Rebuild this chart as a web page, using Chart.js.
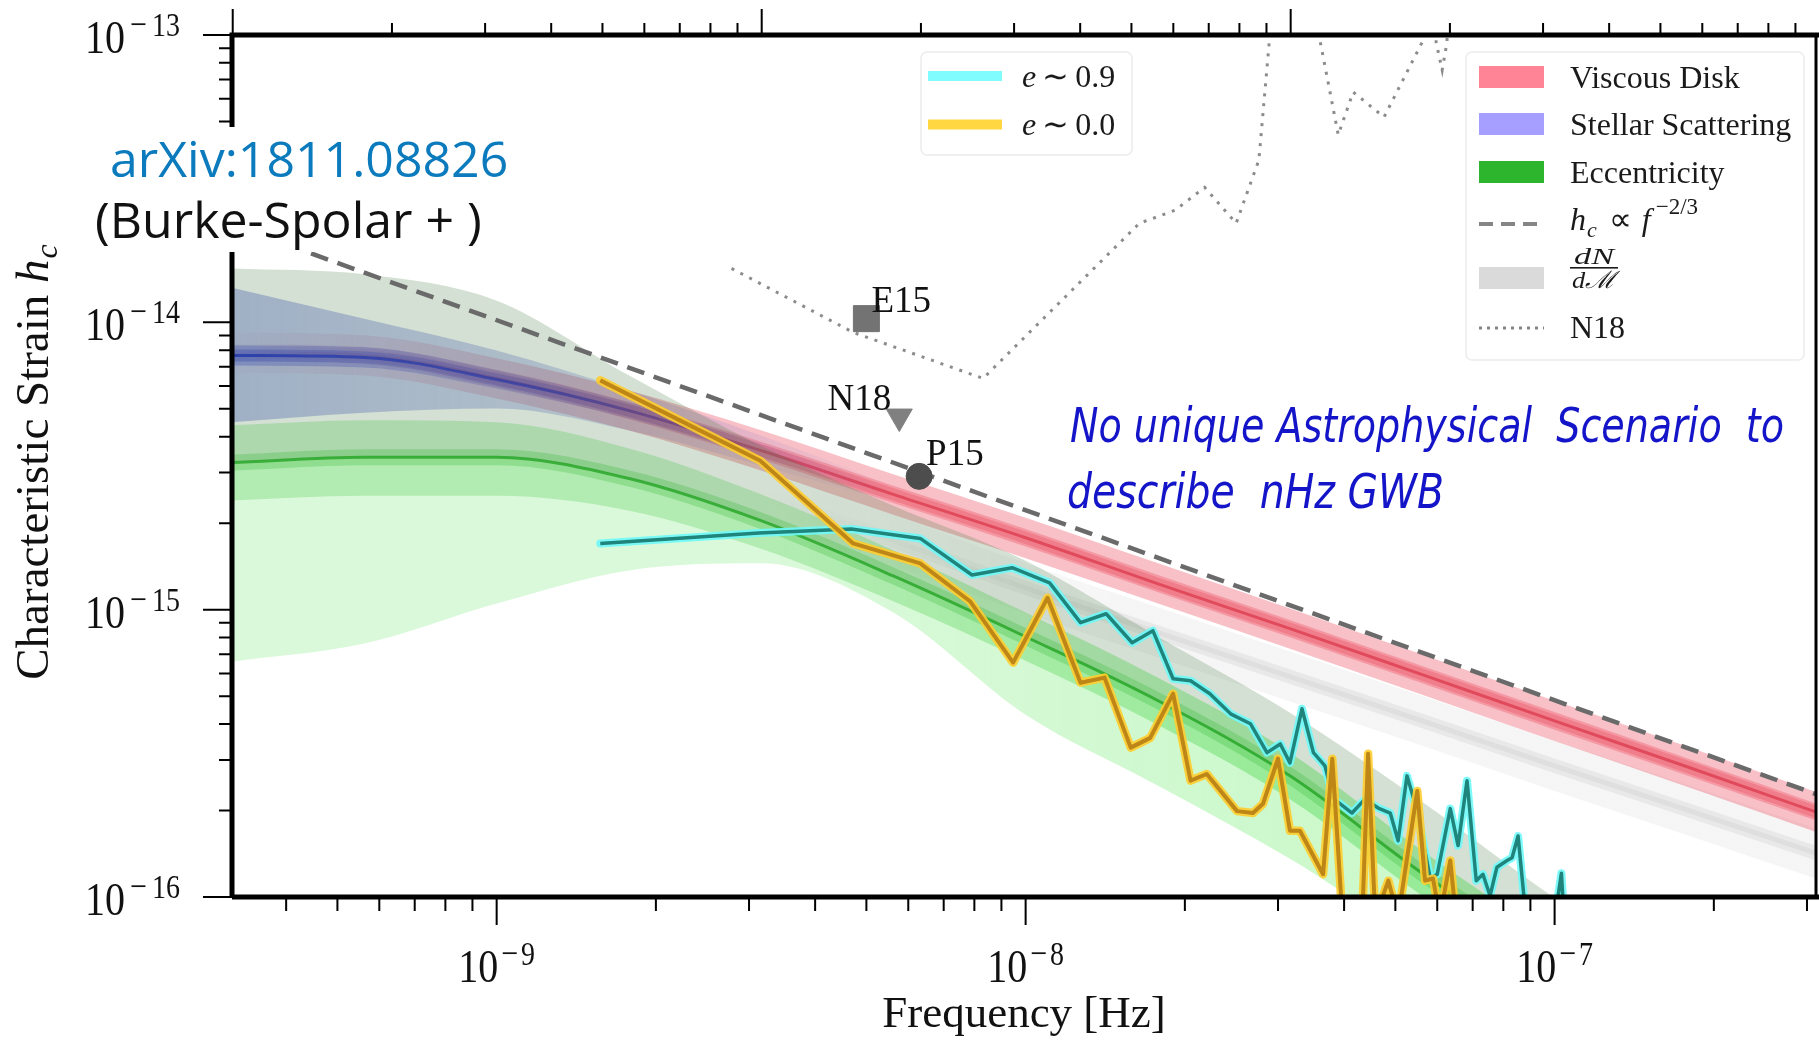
<!DOCTYPE html>
<html lang="en">
<head>
<meta charset="utf-8">
<title>GWB characteristic strain models</title>
<script src="https://cdn.jsdelivr.net/npm/chart.js@4.4.1/dist/chart.umd.min.js"></script>
<style>
  html, body { margin: 0; padding: 0; background: #ffffff; }
  #plot-wrap { position: relative; width: 1819px; height: 1042px; }
</style>
</head>
<body>
<div id="plot-wrap"><canvas id="strain-chart"></canvas></div>
<script>
const SERIF = '"Liberation Serif", "Times New Roman", serif';
const SANS = '"Open Sans", "Noto Sans", sans-serif';
const HAND = '"Liberation Sans Narrow", "DejaVu Sans Condensed", sans-serif';

// one inverse year in Hz (top axis ticks)
const YR = 3.17e-8;

// axis ranges
const freqRange = [3.16e-10, 3.12e-7];
const strainRange = [1e-16, 1e-13];

// labelled decades and their exponents
const xMajor = [1e-9, 1e-8, 1e-7];
const xMajorExp = [-9, -8, -7];
const yMajor = [1e-13, 1e-14, 1e-15, 1e-16];
const yMajorExp = [-13, -14, -15, -16];

// model bands, common frequency grid [Hz]
const bandFreq = [3.16e-10, 5.62e-10, 1.0e-9, 1.78e-9, 3.16e-9, 5.62e-9, 1.0e-8, 1.78e-8, 3.16e-8, 5.62e-8, 1.0e-7, 1.78e-7, 3.16e-7];

// viscous disk
const diskMid  = [7.85e-15, 7.67e-15, 6.38e-15, 4.93e-15, 3.58e-15, 2.52e-15, 1.78e-15, 1.23e-15, 8.59e-16, 5.94e-16, 4.10e-16, 2.84e-16, 1.96e-16];
const diskHi   = [9.22e-15, 9.01e-15, 7.50e-15, 5.79e-15, 4.21e-15, 2.96e-15, 2.09e-15, 1.45e-15, 1.01e-15, 6.98e-16, 4.82e-16, 3.34e-16, 2.30e-16];
const diskLo   = [6.68e-15, 6.53e-15, 5.43e-15, 4.20e-15, 3.05e-15, 2.14e-15, 1.51e-15, 1.05e-15, 7.31e-16, 5.06e-16, 3.49e-16, 2.42e-16, 1.67e-16];
const diskInHi = [8.42e-15, 8.22e-15, 6.84e-15, 5.28e-15, 3.84e-15, 2.70e-15, 1.91e-15, 1.32e-15, 9.21e-16, 6.37e-16, 4.40e-16, 3.04e-16, 2.10e-16];
const diskInLo = [7.32e-15, 7.15e-15, 5.95e-15, 4.60e-15, 3.34e-15, 2.35e-15, 1.66e-15, 1.15e-15, 8.01e-16, 5.54e-16, 3.82e-16, 2.65e-16, 1.83e-16];

// stellar scattering (merges into the disk curve above a few nHz)
const stellarFreq = [3.16e-10, 5.62e-10, 1.0e-9, 1.78e-9, 3.16e-9, 5.62e-9];
const stellarMid  = [7.67e-15, 7.55e-15, 6.32e-15, 4.93e-15, 3.58e-15, 2.52e-15];
const stellarHi   = [1.32e-14, 1.03e-14, 7.98e-15, 5.79e-15, 4.04e-15, 2.70e-15];
const stellarLo   = [4.49e-15, 4.85e-15, 5.01e-15, 4.20e-15, 3.17e-15, 2.35e-15];
const stellarInHi = [8.32e-15, 8.19e-15, 6.81e-15, 5.26e-15, 3.78e-15, 2.60e-15];
const stellarInLo = [7.08e-15, 6.97e-15, 5.89e-15, 4.63e-15, 3.39e-15, 2.45e-15];

// eccentricity
const eccMid  = [3.25e-15, 3.39e-15, 3.39e-15, 2.86e-15, 2.04e-15, 1.31e-15, 8.05e-16, 4.82e-16, 2.64e-16, 1.21e-16, 5.98e-17, 3.0e-17, 1.5e-17];
const eccHi   = [1.54e-14, 1.47e-14, 1.19e-14, 6.53e-15, 3.72e-15, 2.30e-15, 1.48e-15, 8.05e-16, 4.38e-16, 2.14e-16, 9.92e-17, 5.0e-17, 2.5e-17];
const eccLo   = [6.59e-16, 7.62e-16, 1.05e-15, 1.37e-15, 1.45e-15, 9.77e-16, 4.31e-16, 2.44e-16, 1.36e-16, 7.03e-17, 4.5e-17, 2.0e-17, 1.0e-17];
const eccInHi = [4.38e-15, 4.56e-15, 4.49e-15, 3.64e-15, 2.52e-15, 1.61e-15, 9.77e-16, 5.79e-16, 3.18e-16, 1.45e-16, 7.03e-17, 3.5e-17, 1.8e-17];
const eccInLo = [2.40e-15, 2.49e-15, 2.49e-15, 2.21e-15, 1.63e-15, 1.07e-15, 6.64e-16, 3.97e-16, 2.19e-16, 1.01e-16, 5.0e-17, 2.5e-17, 1.2e-17];

// dN/dM (mass function) band
const massFreq = [3.16e-9, 5.62e-9, 1.0e-8, 1.78e-8, 3.16e-8, 5.62e-8, 1.0e-7, 1.78e-7, 3.16e-7];
const massMid  = [2.54e-15, 1.74e-15, 1.19e-15, 8.32e-16, 5.85e-16, 4.10e-16, 2.86e-16, 2.01e-16, 1.41e-16];
const massHi   = [3.10e-15, 2.13e-15, 1.45e-15, 1.02e-15, 7.15e-16, 5.01e-16, 3.50e-16, 2.46e-16, 1.72e-16];
const massLo   = [2.08e-15, 1.42e-15, 9.74e-16, 6.81e-16, 4.79e-16, 3.36e-16, 2.34e-16, 1.64e-16, 1.15e-16];

// h_c ~ f^(-2/3) reference line
const powerFreq = [3.16e-10, 3.12e-7];
const powerStrain = [2.18e-14, 2.28e-16];

// simulated spectrum, e ~ 0.9
const highEccFreq = [1.57e-9, 3.13e-9, 4.68e-9, 6.32e-9, 7.92e-9, 9.43e-9, 1.11e-8, 1.27e-8, 1.42e-8, 1.59e-8, 1.74e-8, 1.90e-8, 2.05e-8, 2.23e-8, 2.44e-8, 2.66e-8, 2.86e-8, 3.03e-8, 3.16e-8, 3.33e-8, 3.50e-8, 3.68e-8, 3.81e-8, 4.14e-8, 4.38e-8, 4.64e-8, 4.89e-8, 5.06e-8, 5.26e-8, 5.50e-8, 5.82e-8, 6.00e-8, 6.35e-8, 6.57e-8, 6.83e-8, 7.11e-8, 7.32e-8, 7.55e-8, 7.78e-8, 8.13e-8, 8.31e-8, 8.53e-8, 8.80e-8, 9.39e-8, 1.006e-7, 1.03e-7, 1.04e-7];
const highEccStrain = [1.70e-15, 1.85e-15, 1.91e-15, 1.77e-15, 1.32e-15, 1.40e-15, 1.24e-15, 9.01e-16, 9.68e-16, 7.67e-16, 8.45e-16, 5.75e-16, 5.66e-16, 5.10e-16, 4.34e-16, 4.01e-16, 3.18e-16, 3.41e-16, 2.93e-16, 4.52e-16, 3.18e-16, 2.86e-16, 2.21e-16, 1.96e-16, 2.19e-16, 2.04e-16, 1.96e-16, 1.57e-16, 2.64e-16, 1.99e-16, 1.16e-16, 1.20e-16, 2.03e-16, 1.51e-16, 2.54e-16, 1.14e-16, 1.20e-16, 1.01e-16, 1.27e-16, 1.34e-16, 1.37e-16, 1.63e-16, 9e-17, 9e-17, 9e-17, 1.21e-16, 9e-17];

// simulated spectrum, e ~ 0.0
const circFreq = [1.57e-9, 3.15e-9, 4.72e-9, 6.32e-9, 7.85e-9, 9.47e-9, 1.10e-8, 1.27e-8, 1.41e-8, 1.58e-8, 1.72e-8, 1.90e-8, 2.05e-8, 2.20e-8, 2.51e-8, 2.69e-8, 2.81e-8, 3.00e-8, 3.16e-8, 3.30e-8, 3.65e-8, 3.80e-8, 3.97e-8, 4.33e-8, 4.44e-8, 4.58e-8, 4.85e-8, 5.06e-8, 5.50e-8, 5.69e-8, 5.89e-8, 6.07e-8, 6.35e-8, 6.51e-8];
const circStrain = [6.28e-15, 3.30e-15, 1.70e-15, 1.45e-15, 1.07e-15, 6.54e-16, 1.10e-15, 5.57e-16, 5.80e-16, 3.31e-16, 3.58e-16, 5.10e-16, 2.54e-16, 2.68e-16, 1.99e-16, 1.96e-16, 2.11e-16, 3.03e-16, 1.70e-16, 1.70e-16, 1.20e-16, 3.03e-16, 8.5e-17, 8.5e-17, 3.15e-16, 8.5e-17, 1.14e-16, 8.5e-17, 2.34e-16, 1.14e-16, 1.16e-16, 8.5e-17, 1.34e-16, 8.5e-17];

// NANOGrav 11yr sensitivity curve
const n18Freq = [2.78e-9, 4.72e-9, 8.31e-9, 1.64e-8, 1.92e-8, 2.18e-8, 2.50e-8, 2.76e-8, 2.89e-8, 2.91e-8, 3.57e-8, 3.60e-8, 3.90e-8, 4.16e-8, 4.76e-8, 5.62e-8, 5.67e-8, 5.92e-8, 5.97e-8, 6.13e-8, 6.26e-8, 6.32e-8];
const n18Strain = [1.54e-14, 9.23e-15, 6.38e-15, 2.21e-14, 2.46e-14, 2.95e-14, 2.21e-14, 3.67e-14, 9.61e-14, 3e-13, 3e-13, 9.61e-14, 4.49e-14, 6.33e-14, 5.18e-14, 9.45e-14, 3e-13, 3e-13, 9.45e-14, 7.55e-14, 9.45e-14, 3e-13];

// PTA upper limits
const limitNames = ['E15', 'N18', 'P15'];
const limitFreq = [5.00e-9, 5.77e-9, 6.29e-9];
const limitStrain = [1.03e-14, 4.70e-15, 2.91e-15];

const pts = (fs, hs) => fs.map((f, i) => ({ x: f, y: hs[i] }));

// datasets are painted in the order they are added
const datasets = [];
function add(ds) {
  datasets.push(Object.assign({
    pointRadius: 0, borderWidth: 0, borderColor: 'rgba(0,0,0,0)',
    fill: false, clip: 0, tension: 0, order: 1000 - datasets.length
  }, ds));
  return datasets.length - 1;
}
function band(freq, hi, lo, color) {
  const base = add({ data: pts(freq, lo), cubicInterpolationMode: 'monotone' });
  add({ data: pts(freq, hi), cubicInterpolationMode: 'monotone', fill: base, backgroundColor: color });
}
function curve(freq, vals, color, width) {
  return add({ data: pts(freq, vals), cubicInterpolationMode: 'monotone', borderColor: color, borderWidth: width, borderCapStyle: 'butt' });
}

// horizontal colour ramp along the frequency axis
function fadeX(stops) {
  return (c) => {
    const chart = c.chart;
    const sx = chart.scales && chart.scales.x;
    if (!chart.chartArea || !sx) return stops[stops.length - 1][1];
    const x0 = sx.getPixelForValue(stops[0][0]);
    const x1 = sx.getPixelForValue(stops[stops.length - 1][0]);
    const g = chart.ctx.createLinearGradient(x0, 0, x1, 0);
    stops.forEach(([f, col]) => g.addColorStop((sx.getPixelForValue(f) - x0) / (x1 - x0), col));
    return g;
  };
}

// dN/dM: soft grey stripe, fading in from under the disk band
band(massFreq, massHi, massLo, fadeX([[3.16e-9, 'rgba(120,120,120,0)'], [1.5e-8, 'rgba(120,120,120,0.07)']]));
curve(massFreq, massMid, fadeX([[3.16e-9, 'rgba(140,140,140,0)'], [1.5e-8, 'rgba(140,140,140,0.12)']]), 14);
curve(massFreq, massMid, fadeX([[3.16e-9, 'rgba(150,150,150,0)'], [1.5e-8, 'rgba(150,150,150,0.12)']]), 5);

// viscous disk
band(bandFreq, diskHi, diskLo, fadeX([[3.16e-10, 'rgba(235,70,90,0.03)'], [1.8e-9, 'rgba(235,70,90,0.34)']]));
band(bandFreq, diskInHi, diskInLo, fadeX([[3.16e-10, 'rgba(235,60,80,0.03)'], [1.8e-9, 'rgba(235,60,80,0.3)']]));
curve(bandFreq, diskMid, fadeX([[3.16e-10, 'rgba(225,45,65,0.02)'], [1.8e-9, 'rgba(225,45,65,0.25)']]), 12);
curve(bandFreq, diskMid, fadeX([[3.16e-10, 'rgba(215,40,60,0.05)'], [1.8e-9, 'rgba(215,40,60,0.6)']]), 3);

// stellar scattering
band(stellarFreq, stellarHi, stellarLo, fadeX([[3.16e-10, 'rgba(70,80,205,0.36)'], [1.2e-9, 'rgba(70,80,205,0.26)'], [5.62e-9, 'rgba(70,80,205,0)']]));
band(stellarFreq, stellarInHi, stellarInLo, fadeX([[3.16e-10, 'rgba(40,50,205,0.3)'], [1.2e-9, 'rgba(40,50,205,0.22)'], [5.62e-9, 'rgba(40,50,205,0)']]));
curve(stellarFreq, stellarMid, fadeX([[3.16e-10, 'rgba(30,40,200,0.3)'], [1.2e-9, 'rgba(30,40,200,0.2)'], [3.16e-9, 'rgba(30,40,200,0)']]), 12);
curve(stellarFreq, stellarMid, fadeX([[3.16e-10, 'rgba(25,35,200,0.85)'], [1.2e-9, 'rgba(25,35,200,0.6)'], [3.16e-9, 'rgba(25,35,200,0)']]), 3);

// eccentricity: grey-green above the median, pale green below
const eccBase = add({ data: pts(bandFreq, eccMid), cubicInterpolationMode: 'monotone' });
add({ data: pts(bandFreq, eccHi), cubicInterpolationMode: 'monotone', fill: eccBase, backgroundColor: 'rgba(70,125,70,0.24)' });
add({ data: pts(bandFreq, eccLo), cubicInterpolationMode: 'monotone', fill: eccBase,
  backgroundColor: fadeX([[3.16e-10, 'rgba(70,225,70,0.2)'], [3.16e-9, 'rgba(70,225,70,0.2)'], [3.16e-8, 'rgba(60,230,60,0.26)']]) });
band(bandFreq, eccInHi, eccInLo, fadeX([[3.16e-10, 'rgba(40,190,40,0.22)'], [3.16e-9, 'rgba(40,190,40,0.22)'], [3.16e-8, 'rgba(40,205,40,0.32)']]));
curve(bandFreq, eccMid, 'rgba(40,180,40,0.25)', 16);
curve(bandFreq, eccMid, 'rgba(30,160,30,0.75)', 3);

// reference power law and sensitivity curve
add({ data: pts(powerFreq, powerStrain), borderColor: '#6a6a6a', borderWidth: 4.5, borderDash: [18, 10] });
add({ data: pts(n18Freq, n18Strain), borderColor: '#8c8c8c', borderWidth: 3, borderDash: [3, 7] });

// simulated spectra, glow underneath the core line
add({ data: pts(highEccFreq, highEccStrain), borderColor: 'rgba(110,250,250,0.9)', borderWidth: 8, borderJoinStyle: 'round', borderCapStyle: 'round' });
add({ data: pts(highEccFreq, highEccStrain), borderColor: '#1f847b', borderWidth: 3.5, borderJoinStyle: 'round' });
add({ data: pts(circFreq, circStrain), borderColor: 'rgba(255,205,45,0.9)', borderWidth: 8.5, borderJoinStyle: 'round', borderCapStyle: 'round' });
add({ data: pts(circFreq, circStrain), borderColor: '#bd8616', borderWidth: 4, borderJoinStyle: 'round' });

// upper limits
const limitStyle = [
  { pointStyle: 'rect', pointRadius: 18.4, pointRotation: 0, color: '#737373' },
  { pointStyle: 'triangle', pointRadius: 15, pointRotation: 180, color: '#808080' },
  { pointStyle: 'circle', pointRadius: 13, pointRotation: 0, color: '#4d4d4d' }
];
limitNames.forEach((name, i) => {
  const s = limitStyle[i];
  add({
    label: name, data: [{ x: limitFreq[i], y: limitStrain[i] }], showLine: false, clip: false,
    pointStyle: s.pointStyle, pointRadius: s.pointRadius, pointRotation: s.pointRotation,
    pointBackgroundColor: s.color, pointBorderColor: s.color, pointBorderWidth: 1
  });
});

function logTicks(min, max, unit) {
  const out = [];
  for (let n = -18; n <= 2; n++) {
    for (let k = 1; k <= 9; k++) {
      const v = k * Math.pow(10, n) * unit;
      if (v >= min * 0.999 && v <= max * 1.001) out.push({ v, major: k === 1 });
    }
  }
  return out;
}

// draws a run of text pieces, each with its own font and vertical offset
function rich(ctx, x, y, parts, measureOnly) {
  let cx = x;
  parts.forEach(p => {
    ctx.font = p.font;
    if (!measureOnly) ctx.fillText(p.t, cx, y + (p.dy || 0));
    cx += ctx.measureText(p.t).width + (p.gap || 0);
  });
  return cx - x;
}

// "10^n" tick label; the mathtext glyphs are taller than plain Times
function powLabel(ctx, x, y, exp, align, gap) {
  const parts = [
    { t: '10', font: `40px ${SERIF}`, gap: gap },
    { t: '\u2212', font: `30px ${SERIF}`, dy: -14.4, gap: gap },
    { t: String(Math.abs(exp)), font: `28px ${SERIF}`, dy: -14.4 }
  ];
  const w = rich(ctx, 0, 0, parts, true);
  ctx.save();
  ctx.translate(align === 'center' ? x - w / 2 : x - w, y);
  ctx.scale(1, 1.18);
  rich(ctx, 0, 0, parts);
  ctx.restore();
}

// squeeze or stretch a line of text to a given width
function fitText(ctx, text, x, y, width) {
  const w = ctx.measureText(text).width;
  ctx.save();
  ctx.translate(x, y);
  ctx.scale(width / w, 1);
  ctx.fillText(text, 0, 0);
  ctx.restore();
}

function legendBox(ctx, x, y, w, h) {
  const r = 6;
  ctx.beginPath();
  ctx.moveTo(x + r, y);
  ctx.arcTo(x + w, y, x + w, y + h, r);
  ctx.arcTo(x + w, y + h, x, y + h, r);
  ctx.arcTo(x, y + h, x, y, r);
  ctx.arcTo(x, y, x + w, y, r);
  ctx.closePath();
  ctx.fillStyle = 'rgba(255,255,255,0.85)';
  ctx.fill();
  ctx.strokeStyle = '#ececec';
  ctx.lineWidth = 1.5;
  ctx.stroke();
}

function sampleLine(ctx, x0, x1, y, color, width, dash) {
  ctx.save();
  ctx.strokeStyle = color;
  ctx.lineWidth = width;
  ctx.setLineDash(dash || []);
  ctx.beginPath();
  ctx.moveTo(x0, y);
  ctx.lineTo(x1, y);
  ctx.stroke();
  ctx.restore();
}

function drawLegends(ctx) {
  const txt = `32px ${SERIF}`;
  const ital = `italic 32px ${SERIF}`;

  // spectra legend
  legendBox(ctx, 921, 52, 211, 103);
  sampleLine(ctx, 928, 1002, 76, '#80fcff', 10);
  sampleLine(ctx, 928, 1002, 124.5, '#ffd740', 10);
  ctx.fillStyle = '#1a1a1a';
  rich(ctx, 1022, 87, [{ t: 'e', font: ital, gap: 6 }, { t: '\u223c', font: txt, gap: 6 }, { t: '0.9', font: txt }]);
  rich(ctx, 1022, 135, [{ t: 'e', font: ital, gap: 6 }, { t: '\u223c', font: txt, gap: 6 }, { t: '0.0', font: txt }]);

  // model legend
  legendBox(ctx, 1466, 52, 338, 308);
  const sw = [[66, '#ff8596'], [113, '#a69fff'], [161, '#2db52d'], [267, '#dadada']];
  sw.forEach(([y, c]) => { ctx.fillStyle = c; ctx.fillRect(1479, y, 65, 22); });
  sampleLine(ctx, 1479, 1544, 224, '#858585', 4, [14, 8]);
  sampleLine(ctx, 1479, 1544, 328, '#858585', 3, [3, 5]);

  ctx.fillStyle = '#1a1a1a';
  ctx.font = txt;
  ctx.fillText('Viscous Disk', 1570, 88);
  ctx.fillText('Stellar Scattering', 1570, 135);
  ctx.fillText('Eccentricity', 1570, 183);
  rich(ctx, 1570, 230, [
    { t: 'h', font: ital, gap: 1 },
    { t: 'c', font: `italic 22px ${SERIF}`, dy: 7, gap: 12 },
    { t: '\u221d', font: txt, gap: 10 },
    { t: 'f', font: ital, gap: 5 },
    { t: '\u22122/3', font: `23px ${SERIF}`, dy: -16 }
  ]);
  // dN / dM fraction
  ctx.font = `italic 24px ${SERIF}`;
  fitText(ctx, 'dN', 1574, 264, 40);
  fitText(ctx, 'd\u2133', 1572, 288, 44);
  ctx.fillRect(1570, 267, 48, 1.6);
  ctx.font = txt;
  ctx.fillText('N18', 1570, 338);
}

const frame = {
  id: 'frame',
  afterDraw(chart) {
    const { ctx, chartArea: a, scales: { x, y } } = chart;
    ctx.save();
    ctx.textAlign = 'left';
    ctx.textBaseline = 'alphabetic';

    // tick marks: bottom and left in Hz / strain, top in 1/yr
    ctx.strokeStyle = '#000';
    ctx.lineWidth = 2;
    ctx.beginPath();
    logTicks(x.min, x.max, 1).forEach(t => {
      const px = x.getPixelForValue(t.v);
      ctx.moveTo(px, a.bottom);
      ctx.lineTo(px, a.bottom + (t.major ? 28 : 14));
    });
    logTicks(x.min, x.max, YR).forEach(t => {
      const px = x.getPixelForValue(t.v);
      ctx.moveTo(px, a.top);
      ctx.lineTo(px, a.top - (t.major ? 26 : 12));
    });
    logTicks(y.min, y.max, 1).forEach(t => {
      const py = y.getPixelForValue(t.v);
      ctx.moveTo(a.left, py);
      ctx.lineTo(a.left - (t.major ? 29 : 13), py);
    });
    ctx.stroke();

    // spines
    ctx.lineWidth = 5;
    ctx.beginPath();
    ctx.moveTo(a.left, a.bottom);
    ctx.lineTo(a.left, a.top);
    ctx.lineTo(chart.width, a.top);
    ctx.moveTo(a.left, a.bottom);
    ctx.lineTo(chart.width, a.bottom);
    ctx.stroke();
    ctx.lineWidth = 3;
    ctx.beginPath();
    ctx.moveTo(a.right, a.top);
    ctx.lineTo(a.right, a.bottom);
    ctx.stroke();

    // tick labels
    ctx.fillStyle = '#111';
    xMajor.forEach((v, i) => powLabel(ctx, x.getPixelForValue(v), a.bottom + 85, xMajorExp[i], 'center', 3));
    yMajor.forEach((v, i) => powLabel(ctx, 180, y.getPixelForValue(v) + 18, yMajorExp[i], 'right', 5));

    // axis titles
    ctx.font = `45px ${SERIF}`;
    ctx.textAlign = 'center';
    ctx.fillText('Frequency [Hz]', (a.left + a.right) / 2, 1027);
    ctx.textAlign = 'left';
    const yTitle = [
      { t: 'Characteristic Strain ', font: `47px ${SERIF}` },
      { t: 'h', font: `italic 47px ${SERIF}`, gap: 1 },
      { t: 'c', font: `italic 32px ${SERIF}`, dy: 9 }
    ];
    const tw = rich(ctx, 0, 0, yTitle, true);
    ctx.save();
    ctx.translate(48, 462);
    ctx.rotate(-Math.PI / 2);
    rich(ctx, -tw / 2, 0, yTitle);
    ctx.restore();

    // upper-limit labels
    ctx.font = `37px ${SERIF}`;
    ctx.fillStyle = '#111';
    const lp = i => [x.getPixelForValue(limitFreq[i]), y.getPixelForValue(limitStrain[i])];
    let [px, py] = lp(0);
    ctx.fillText(limitNames[0], px + 5, py - 7);
    [px, py] = lp(1);
    ctx.textAlign = 'right';
    ctx.fillText(limitNames[1], px - 8, py - 7);
    ctx.textAlign = 'left';
    [px, py] = lp(2);
    ctx.fillText(limitNames[2], px + 7, py - 11);

    drawLegends(ctx);

    // reference tag on a white patch
    ctx.fillStyle = '#ffffff';
    ctx.fillRect(80, 127, 440, 125);
    ctx.font = `50px ${SANS}`;
    ctx.fillStyle = '#0b7bbd';
    ctx.fillText('arXiv:1811.08826', 110, 177);
    ctx.fillStyle = '#111';
    ctx.fillText('(Burke-Spolar + )', 95, 238);

    // handwritten remark
    ctx.fillStyle = '#1414c8';
    ctx.font = `italic 48px ${HAND}`;
    fitText(ctx, 'No unique Astrophysical  Scenario  to', 1070, 442, 714);
    fitText(ctx, 'describe  nHz GWB', 1067, 508, 377);

    ctx.restore();
  }
};

new Chart(document.getElementById('strain-chart'), {
  type: 'line',
  data: { datasets },
  options: {
    responsive: true,
    maintainAspectRatio: false,
    animation: false,
    devicePixelRatio: 1,
    events: [],
    layout: { autoPadding: false, padding: { top: 35, right: 3, left: 0, bottom: 0 } },
    plugins: { legend: { display: false }, tooltip: { enabled: false } },
    scales: {
      x: {
        type: 'logarithmic', min: freqRange[0], max: freqRange[1],
        ticks: { display: false }, grid: { display: false }, border: { display: false },
        afterFit(s) { s.height = 145; }
      },
      y: {
        type: 'logarithmic', min: strainRange[0], max: strainRange[1],
        ticks: { display: false }, grid: { display: false }, border: { display: false },
        afterFit(s) { s.width = 232; }
      }
    }
  },
  plugins: [frame]
});
</script>
</body>
</html>
